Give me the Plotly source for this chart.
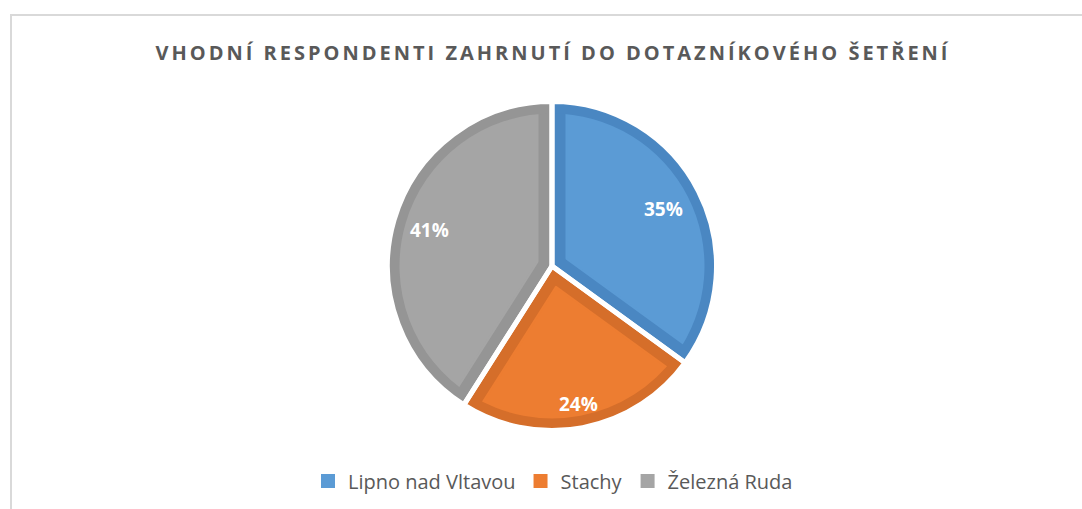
import math
import plotly.graph_objects as go

# ---- data ----
labels = ["Lipno nad Vltavou", "Stachy", "Železná Ruda"]
values = [35, 24, 41]
title_text = "VHODNÍ RESPONDENTI ZAHRNUTÍ DO DOTAZNÍKOVÉHO ŠETŘENÍ"

# ---- style ----
light = ["#5B9BD5", "#ED7D31", "#A5A5A5"]
dark = ["#4A87C2", "#D56E2A", "#959595"]
label_radius = [0.76, 0.855, 0.775]   # radial position of the % labels (fraction of R)
W, H = 1082, 509
cx, cy, R = 552, 266, 164.5   # pie centre / radius (px)
band, gap = 12, 5             # darker inner border, white separators


def dom(half):
    return dict(x=[(cx - half) / W, (cx + half) / W],
                y=[1 - (cy + half) / H, 1 - (cy - half) / H])


total = float(sum(values))
halfang = [math.pi * v / total for v in values]
offs = [(band + gap / 2) / math.sin(h) for h in halfang]
dmax = max(offs)
r_light = R - band + dmax + 2
pulls = [o / r_light for o in offs]

common = dict(labels=labels, values=values, sort=False, direction="clockwise",
              rotation=0, hoverinfo="skip", textinfo="none")

fig = go.Figure()
# 1 full pie in the darker shade
fig.add_trace(go.Pie(**common, domain=dom(R), marker=dict(colors=dark),
                     showlegend=False))
# 2 lighter inset wedges (pulled so their straight edges sit inside)
fig.add_trace(go.Pie(**common, domain=dom(r_light + dmax), pull=pulls,
                     marker=dict(colors=light, line=dict(color=light, width=2)),
                     showlegend=True))
# 3 darker outer ring
fig.add_trace(go.Pie(**common, domain=dom(R), hole=(R - band) / R,
                     marker=dict(colors=dark), showlegend=False))
# 4 white ring to hide overflow outside the pie
fig.add_trace(go.Pie(labels=["_"], values=[1], sort=False, hoverinfo="skip",
                     textinfo="none", domain=dom(R + 36), hole=(R - 0.5) / (R + 36),
                     marker=dict(colors=["white"]), showlegend=False))
# 5 white separators
fig.add_trace(go.Pie(**common, domain=dom(R),
                     marker=dict(colors=["rgba(0,0,0,0)"] * 3,
                                 line=dict(color="white", width=gap)),
                     showlegend=False))

# percentage labels placed at each slice's mid angle
annotations = []
cum = 0.0
for v, f in zip(values, label_radius):
    mid = 2 * math.pi * (cum + v / 2) / total
    cum += v
    px = cx + f * R * math.sin(mid)
    py = cy - f * R * math.cos(mid)
    annotations.append(dict(text=f"{round(100 * v / total)}%", x=px / W, y=1 - py / H,
                            xref="paper", yref="paper", showarrow=False,
                            xanchor="center", yanchor="middle",
                            font=dict(family="Open Sans", size=19, color="white",
                                      weight="bold")))

fig.update_layout(
    width=W, height=H, margin=dict(l=0, r=0, t=0, b=0),
    paper_bgcolor="white", plot_bgcolor="white",
    title=dict(text=title_text, x=553 / W, xanchor="center", xref="paper",
               y=1 - 53 / H, yanchor="middle", yref="paper",
               font=dict(family="Open Sans", size=20, color="#595959", weight="bold")),
    legend=dict(orientation="h", x=553 / W, xanchor="center", y=1 - 481 / H,
                yanchor="middle", font=dict(family="Open Sans", size=20, color="#595959"),
                traceorder="normal"),
    annotations=annotations,
    shapes=[dict(type="rect", xref="paper", yref="paper", x0=11 / W, x1=1.05,
                 y0=-0.05, y1=1 - 15 / H, line=dict(color="#D9D9D9", width=2),
                 fillcolor="rgba(0,0,0,0)", layer="below")],
)

js = """
document.body.style.margin='0';
var gd=document.getElementById('{plot_id}');
gd.querySelectorAll('.gtitle').forEach(function(t){t.style.letterSpacing='3px';});
"""
fig.write_html("out.html", post_script=js, config={"displayModeBar": False})
